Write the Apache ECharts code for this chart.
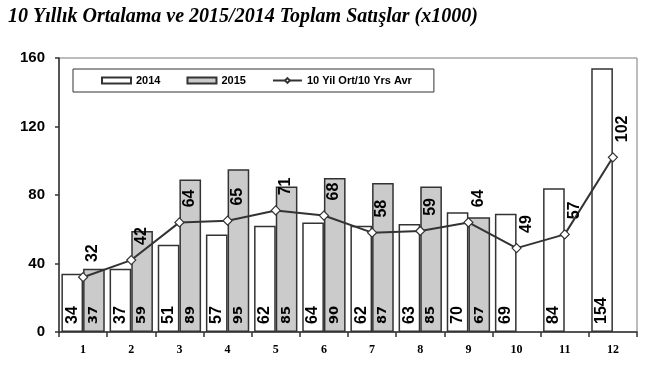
<!DOCTYPE html>
<html><head><meta charset="utf-8">
<script src="https://cdn.jsdelivr.net/npm/echarts@6/dist/echarts.min.js"></script>
<style>html,body{margin:0;padding:0;background:#fff}#c{width:670px;height:372px}</style>
</head><body><div id="c"></div>
<script>
var titleText = '10 Yıllık Ortalama ve 2015/2014 Toplam Satışlar (x1000)';
var categories = ['1','2','3','4','5','6','7','8','9','10','11','12'];
var seriesNames = ['2014','2015','10 Yil Ort/10 Yrs Avr'];
var sales2014 = [34,37,51,57,62,64,62,63,70,69,84,154];
var sales2015 = [37,59,89,95,85,90,87,85,67,null,null,null];
var avg10 = [32,42,64,65,71,68,58,59,64,49,57,102];
var yTicks = [0,40,80,120,160];

var chart = echarts.init(document.getElementById('c'), null, {renderer:'canvas'});
var sans = 'Liberation Sans, Arial, sans-serif';
var serif = 'Liberation Serif, Times New Roman, serif';
var barLabel = function(size, fam){
  return {show:true, position:'insideBottom', distance:8, rotate:90, align:'left', verticalAlign:'middle',
    fontFamily:fam, fontWeight:'bold', fontSize:size, color:'#000',
    formatter:function(p){return p.value==null?'':p.value;}};
};
chart.setOption({
  animation:false,
  backgroundColor:'#fff',
  title:{text:titleText, left:3, top:2, textStyle:{fontFamily:serif, fontStyle:'italic', fontWeight:'bold', fontSize:20, color:'#000'}},
  legend:{
    left:73, top:69, orient:'horizontal',
    backgroundColor:'#fff', borderColor:'#333', borderWidth:1,
    padding:[6,22,6,28], itemGap:26, itemWidth:29, itemHeight:6,
    textStyle:{fontFamily:sans, fontWeight:'bold', fontSize:11, color:'#000'},
    data:[{name:seriesNames[0], icon:'rect'},{name:seriesNames[1], icon:'rect'},{name:seriesNames[2]}]
  },
  grid:{left:59, right:33, top:58, bottom:40, show:true, borderColor:'#7a7a7a', borderWidth:1, backgroundColor:'transparent'},
  xAxis:{type:'category', data:categories, boundaryGap:true,
    axisLine:{lineStyle:{color:'#333', width:1.5}},
    axisTick:{show:true, interval:0, length:5, lineStyle:{color:'#333', width:1.5}},
    axisLabel:{interval:0, margin:12, fontFamily:serif, fontWeight:'bold', fontSize:12, color:'#000'},
    splitLine:{show:false}},
  yAxis:{type:'value', min:yTicks[0], max:yTicks[yTicks.length-1], interval:yTicks[1]-yTicks[0],
    axisLine:{show:true, lineStyle:{color:'#333', width:1.5}},
    axisTick:{show:true, length:4, lineStyle:{color:'#333', width:1.5}},
    axisLabel:{margin:14, fontFamily:sans, fontWeight:'bold', fontSize:15, color:'#000'},
    splitLine:{show:false}},
  series:[
    {name:seriesNames[0], type:'bar', data:sales2014, barGap:'0%', barCategoryGap:'10%',
     itemStyle:{color:'#fff', borderColor:'#333', borderWidth:1.5},
     label:barLabel(16, sans), z:2},
    {name:seriesNames[1], type:'bar', data:sales2015, barGap:'0%', barCategoryGap:'10%',
     itemStyle:{color:'#cbcbcb', borderColor:'#333', borderWidth:1.5},
     label:barLabel(13, 'DejaVu Sans, Verdana, sans-serif'), z:2},
    {name:seriesNames[2], type:'line', data:avg10, z:5,
     lineStyle:{color:'#333', width:2},
     symbol:'diamond', symbolSize:9,
     itemStyle:{color:'#fff', borderColor:'#333', borderWidth:1.2},
     label:{show:true, position:'top', distance:10, rotate:90, align:'left', verticalAlign:'middle',
       offset:[0,10], fontFamily:sans, fontWeight:'bold', fontSize:16, color:'#000'}}
  ]
});
</script></body></html>
